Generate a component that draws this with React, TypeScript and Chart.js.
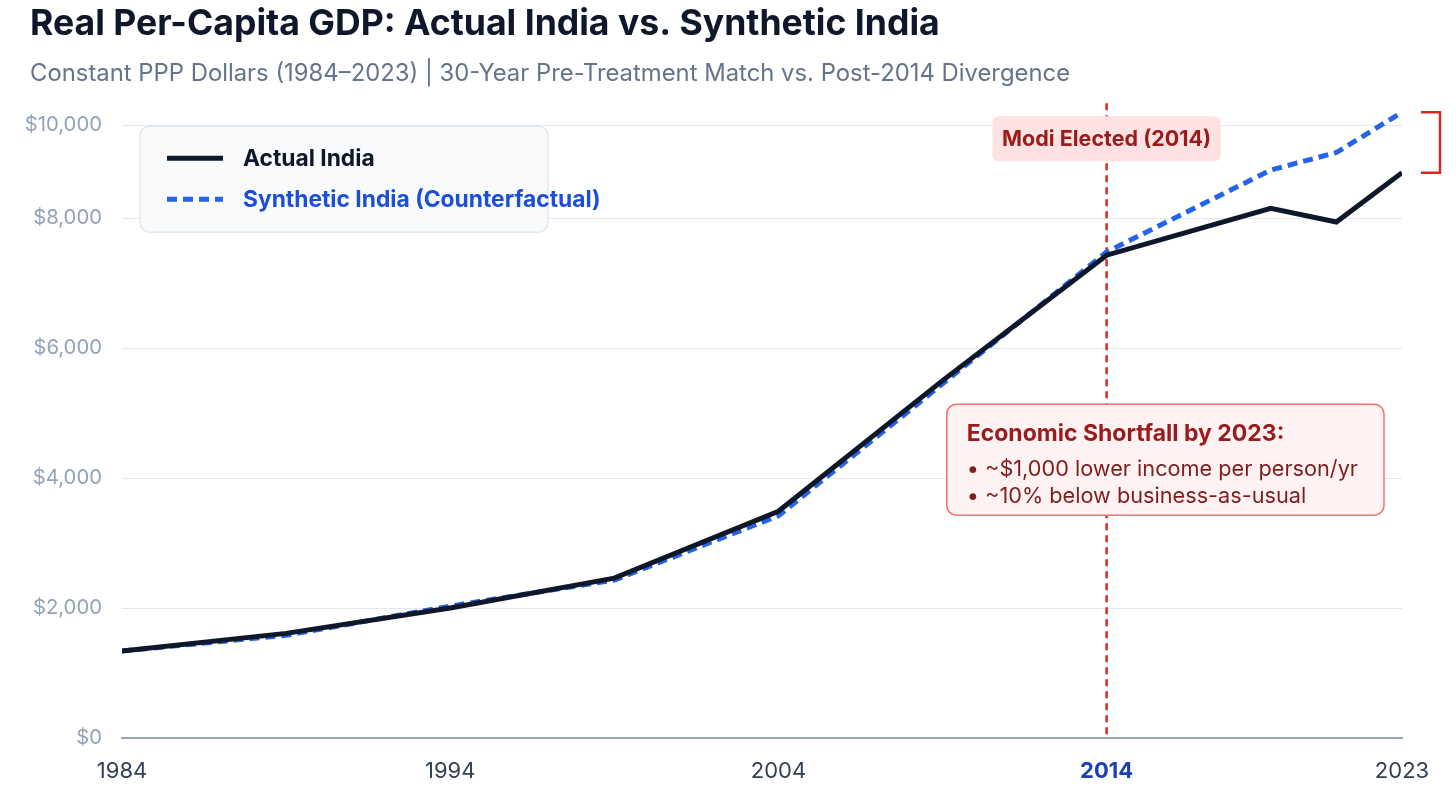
import React, { useEffect, useRef } from 'react';
import { Chart, registerables } from 'chart.js';

Chart.register(...registerables);

const TITLE = 'Real Per-Capita GDP: Actual India vs. Synthetic India';
const SUBTITLE = 'Constant PPP Dollars (1984–2023) | 30-Year Pre-Treatment Match vs. Post-2014 Divergence';

const YEARS = [1984, 1989, 1994, 1999, 2004, 2009, 2014, 2019, 2021, 2023];
const ACTUAL = [1340, 1610, 2000, 2460, 3490, 5500, 7430, 8150, 7940, 8700];
const SYNTHETIC = [1340, 1580, 2030, 2430, 3420, 5450, 7480, 8740, 9010, 9630];

const SERIES_LABELS = ['Actual India', 'Synthetic India (Counterfactual)'];
const LEGEND_TEXT_COLORS = ['#0f172a', '#1d4ed8'];

const X_TICKS = [1984, 1994, 2004, 2014, 2023];
const Y_TICK_VALUES = [0, 2000, 4000, 6000, 8000, 9430];
const Y_TICK_LABELS = ['$0', '$2,000', '$4,000', '$6,000', '$8,000', '$10,000'];
const Y_MAX = 9770;

const EVENT_YEAR = 2014;
const EVENT_LABEL = 'Modi Elected (2014)';
const SHORTFALL_TITLE = 'Economic Shortfall by 2023:';
const SHORTFALL_LINES = ['~$1,000 lower income per person/yr', '~10% below business-as-usual'];

const FONT = 'Inter, "Noto Sans", "DejaVu Sans", sans-serif';
const RED = '#dc2626';

function roundRect(ctx: CanvasRenderingContext2D, x: number, y: number, w: number, h: number, r: number) {
  ctx.beginPath();
  ctx.moveTo(x + r, y);
  ctx.lineTo(x + w - r, y);
  ctx.arcTo(x + w, y, x + w, y + r, r);
  ctx.lineTo(x + w, y + h - r);
  ctx.arcTo(x + w, y + h, x + w - r, y + h, r);
  ctx.lineTo(x + r, y + h);
  ctx.arcTo(x, y + h, x, y + h - r, r);
  ctx.lineTo(x, y + r);
  ctx.arcTo(x, y, x + r, y, r);
  ctx.closePath();
}

const annotationPlugin = {
  id: 'indiaAnnotations',
  beforeDatasetsDraw(chart: any) {
    const { ctx, chartArea, scales } = chart;
    const x = scales.x.getPixelForValue(EVENT_YEAR);
    ctx.save();
    ctx.strokeStyle = RED;
    ctx.lineWidth = 2.5;
    ctx.setLineDash([7, 5]);
    ctx.beginPath();
    ctx.moveTo(x, chartArea.top);
    ctx.lineTo(x, chartArea.bottom);
    ctx.stroke();
    ctx.restore();
  },
  afterDatasetsDraw(chart: any) {
    const { ctx, chartArea, scales } = chart;
    ctx.save();

    // Legend
    const lx = chartArea.left + 18;
    const ly = chartArea.top + 23;
    roundRect(ctx, lx, ly, 408, 106, 10);
    ctx.fillStyle = '#f8fafc';
    ctx.fill();
    ctx.strokeStyle = '#e2e8f0';
    ctx.lineWidth = 1.5;
    ctx.stroke();
    chart.data.datasets.forEach((ds: any, i: number) => {
      const cy = ly + 32 + i * 41;
      ctx.save();
      ctx.strokeStyle = ds.borderColor;
      ctx.lineWidth = ds.borderWidth;
      ctx.setLineDash(ds.borderDash || []);
      ctx.beginPath();
      ctx.moveTo(lx + 27, cy);
      ctx.lineTo(lx + 83, cy);
      ctx.stroke();
      ctx.restore();
      ctx.fillStyle = LEGEND_TEXT_COLORS[i];
      ctx.font = `bold 22.8px ${FONT}`;
      ctx.textAlign = 'left';
      ctx.textBaseline = 'middle';
      ctx.fillText(ds.label, lx + 103, cy + 1);
    });

    // Event label
    const ex = scales.x.getPixelForValue(EVENT_YEAR);
    ctx.font = `bold 21.5px ${FONT}`;
    const mw = ctx.measureText(EVENT_LABEL).width + 19;
    const my = chartArea.top + 13;
    roundRect(ctx, ex - mw / 2, my, mw, 45, 6);
    ctx.fillStyle = '#fee2e2';
    ctx.fill();
    ctx.fillStyle = '#991b1b';
    ctx.textAlign = 'center';
    ctx.textBaseline = 'middle';
    ctx.fillText(EVENT_LABEL, ex, my + 23);

    // Shortfall box
    const titleFont = `bold 23px ${FONT}`;
    const bodyFont = `21.7px ${FONT}`;
    ctx.font = titleFont;
    let maxW = ctx.measureText(SHORTFALL_TITLE).width;
    ctx.font = bodyFont;
    SHORTFALL_LINES.forEach((t) => {
      maxW = Math.max(maxW, ctx.measureText('• ' + t).width);
    });
    const bw = maxW + 46;
    const bx = chartArea.right - 18 - bw;
    const by = chartArea.top + 301;
    roundRect(ctx, bx, by, bw, 111, 10);
    ctx.fillStyle = '#fef2f2';
    ctx.fill();
    ctx.strokeStyle = '#f87171';
    ctx.lineWidth = 1.5;
    ctx.stroke();
    ctx.textAlign = 'left';
    ctx.textBaseline = 'middle';
    ctx.fillStyle = '#991b1b';
    ctx.font = titleFont;
    ctx.fillText(SHORTFALL_TITLE, bx + 20, by + 30);
    ctx.fillStyle = '#7f1d1d';
    ctx.font = bodyFont;
    SHORTFALL_LINES.forEach((t, i) => {
      ctx.fillText('• ' + t, bx + 20, by + 65 + i * 27);
    });

    // Gap bracket at final year
    const last = YEARS.length - 1;
    const yTop = scales.y.getPixelForValue(SYNTHETIC[last]);
    const yBot = scales.y.getPixelForValue(ACTUAL[last]);
    const bx1 = chartArea.right + 19;
    const bx2 = chartArea.right + 38;
    ctx.strokeStyle = RED;
    ctx.lineWidth = 2.5;
    ctx.setLineDash([]);
    ctx.beginPath();
    ctx.moveTo(bx1, yTop);
    ctx.lineTo(bx2, yTop);
    ctx.lineTo(bx2, yBot);
    ctx.lineTo(bx1, yBot);
    ctx.stroke();

    ctx.restore();
  },
};

export default function App() {
  const canvasRef = useRef<HTMLCanvasElement | null>(null);

  useEffect(() => {
    document.body.style.margin = '0';
    const canvas = canvasRef.current;
    if (!canvas) return;
    const chart = new Chart(canvas, {
      type: 'line',
      data: {
        datasets: [
          {
            label: SERIES_LABELS[0],
            data: YEARS.map((y, i) => ({ x: y, y: ACTUAL[i] })),
            borderColor: '#0f172a',
            borderWidth: 5,
            pointRadius: 0,
            tension: 0,
            fill: false,
          },
          {
            label: SERIES_LABELS[1],
            data: YEARS.map((y, i) => ({ x: y, y: SYNTHETIC[i] })),
            borderColor: '#2563eb',
            borderWidth: 5,
            borderDash: [10, 6],
            pointRadius: 0,
            tension: 0,
            fill: false,
          },
        ],
      },
      options: {
        responsive: false,
        animation: false,
        layout: { padding: { left: 30, right: 54, top: 0, bottom: 0 } },
        plugins: {
          legend: { display: false },
          tooltip: { enabled: false },
          title: {
            display: true,
            text: TITLE,
            align: 'start',
            color: '#0f172a',
            font: { family: FONT, size: 35.6, weight: 'bold', lineHeight: 1.2 },
            padding: { top: 3, bottom: 0 },
          },
          subtitle: {
            display: true,
            text: SUBTITLE,
            align: 'start',
            color: '#64748b',
            font: { family: FONT, size: 23.85, weight: 'normal', lineHeight: 1.2 },
            padding: { top: 14.2, bottom: 14.6 },
          },
        },
        scales: {
          x: {
            type: 'linear',
            min: YEARS[0],
            max: YEARS[YEARS.length - 1],
            afterBuildTicks: (scale: any) => {
              scale.ticks = X_TICKS.map((v) => ({ value: v }));
            },
            afterFit: (scale: any) => {
              scale.height = 56;
            },
            grid: { display: false, drawTicks: false },
            border: { display: true, color: '#94a3b8', width: 2 },
            ticks: {
              autoSkip: false,
              maxRotation: 0,
              padding: 20,
              callback: (v: any) => String(v),
              color: (c: any) => (c.tick && c.tick.value === EVENT_YEAR ? '#1e40af' : '#334155'),
              font: (c: any) => ({
                family: FONT,
                size: 22,
                weight: c.tick && c.tick.value === EVENT_YEAR ? 'bold' : 'normal',
              }),
            },
          },
          y: {
            type: 'linear',
            min: 0,
            max: Y_MAX,
            afterBuildTicks: (scale: any) => {
              scale.ticks = Y_TICK_VALUES.map((v) => ({ value: v }));
            },
            afterFit: (scale: any) => {
              scale.width = 92;
              // let the widest tick label overhang the axis box instead of being clipped
              scale._computeLabelArea = () => undefined;
            },
            grid: { color: '#e2e8f0', lineWidth: 1, drawTicks: false },
            border: { display: false },
            ticks: {
              padding: 20,
              color: '#94a3b8',
              font: { family: FONT, size: 20.3 },
              callback: (_v: any, i: number) => Y_TICK_LABELS[i],
            },
          },
        },
      },
      plugins: [annotationPlugin],
    } as any);
    return () => chart.destroy();
  }, []);

  return (
    <div style={{ width: 1456, height: 794, background: '#ffffff' }}>
      <canvas ref={canvasRef} width={1456} height={794} style={{ display: 'block' }} />
    </div>
  );
}
